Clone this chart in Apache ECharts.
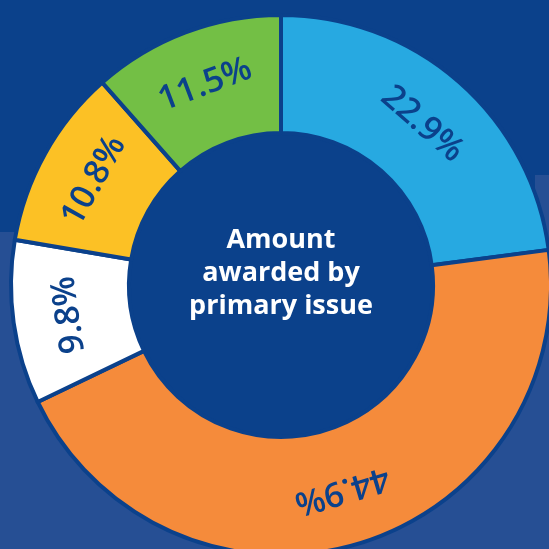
<!DOCTYPE html>
<html>
<head>
<meta charset="utf-8">
<script src="https://cdn.jsdelivr.net/npm/echarts@6/dist/echarts.min.js"></script>
<style>
    html, body { margin: 0; padding: 0; background: #0b418b; }
    #chart { width: 549px; height: 549px; }
</style>
</head>
<body>
<div id="chart"></div>
<script>
    // shares of the amount awarded, clockwise from 12 o'clock
    const sliceNames = ['Slice 1', 'Slice 2', 'Slice 3', 'Slice 4', 'Slice 5'];
    const shares = [22.9, 44.9, 9.8, 10.8, 11.5];
    const centerLines = ['Amount', 'awarded by', 'primary issue'];

    const sliceColors = ['#27a9e1', '#f58b3b', '#ffffff', '#fcc125', '#73bf45'];
    const navy = '#0b418b';

    // tangential label angle, not flipped in the lower half (like the print)
    const total = shares.reduce((a, b) => a + b, 0);
    let acc = 0;
    const pieData = shares.map((v, i) => {
        const mid = (acc + v / 2) / total * 360;
        acc += v;
        return {
            name: sliceNames[i],
            value: v,
            itemStyle: {color: sliceColors[i]},
            label: {rotate: -mid}
        };
    });

    const myChart = echarts.init(document.getElementById('chart'));
    const option = {
        backgroundColor: navy,
        animation: false,
        graphic: [
            {type: 'rect', z: -10, shape: {x: 0, y: 232, width: 549, height: 317}, style: {fill: '#264f94'}},
            {type: 'rect', z: -10, shape: {x: 535, y: 175, width: 14, height: 374}, style: {fill: '#264f94'}},
            {type: 'circle', z: 1, shape: {cx: 281, cy: 285, r: 153}, style: {fill: navy}},
            {
                type: 'text', z: 10, x: 281, y: 273,
                style: {
                    text: centerLines.join('\n'),
                    fill: '#ffffff',
                    font: 'bold 27px "Open Sans", sans-serif',
                    lineHeight: 33,
                    align: 'center',
                    verticalAlign: 'middle'
                }
            }
        ],
        series: [
            {
                type: 'pie',
                center: [281, 285],
                radius: [152, 270],
                startAngle: 90,
                clockwise: true,
                avoidLabelOverlap: false,
                itemStyle: {borderColor: navy, borderWidth: 4},
                label: {
                    show: true,
                    position: 'inside',
                    formatter: '{c}%',
                    color: navy,
                    fontFamily: 'Open Sans',
                    fontWeight: 600,
                    fontSize: 34
                },
                labelLine: {show: false},
                emphasis: {disabled: true},
                data: pieData
            }
        ]
    };
    myChart.setOption(option);
</script>
</body>
</html>
